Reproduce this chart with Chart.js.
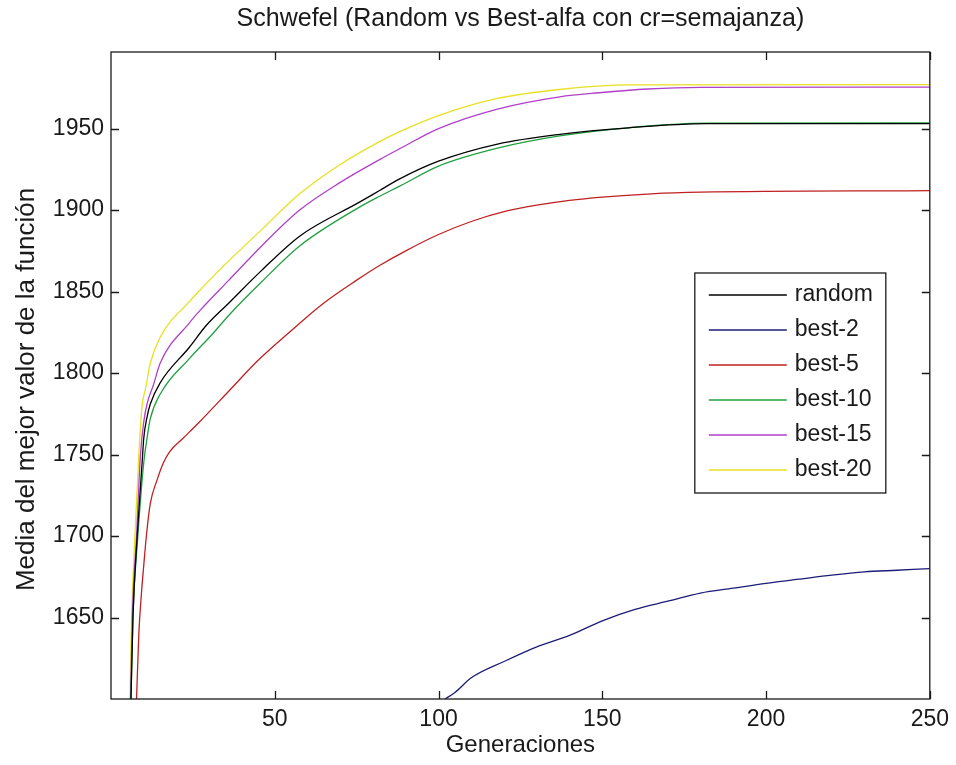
<!DOCTYPE html>
<html>
<head>
<meta charset="utf-8">
<title>Schwefel</title>
<script src="https://cdn.jsdelivr.net/npm/chart.js@4.4.1/dist/chart.umd.min.js"></script>
<style>
  html, body { margin: 0; padding: 0; background: #fff; }
  #wrap { position: relative; width: 956px; height: 765px; }
</style>
</head>
<body>
<div id="wrap"><canvas id="chart" width="956" height="765"></canvas></div>
<script>
// values (generation -> mean best value)
const seriesLabels = ['random', 'best-2', 'best-5', 'best-10', 'best-15', 'best-20'];
const seriesColors = ['#000000', '#1c1c78', '#c02020', '#20a040', '#b040c8', '#e8e020'];

const genRandom = [6.1, 6.7, 8, 9.5, 10, 11, 12, 15, 24, 29, 36, 46, 57.6, 76, 82, 88, 100, 118, 137, 158, 182, 250];
const valRandom = [1600, 1650, 1700, 1745, 1760, 1773, 1781, 1794, 1816, 1829, 1843, 1863, 1884, 1905, 1912, 1919, 1930, 1940.5, 1946.5, 1950.5, 1953, 1953];

const genBest2 = [102, 105, 110, 120, 130, 140, 150, 160, 170, 180, 190, 200, 210, 220, 230, 240, 250];
const valBest2 = [1600, 1604, 1613, 1623, 1632, 1639, 1648, 1655, 1660, 1665, 1668, 1671, 1673.5, 1676, 1678, 1679, 1680];

const genBest5 = [7.8, 8.5, 9.3, 10, 10.8, 12, 14, 16, 18, 22, 27, 36, 45, 55, 65, 75, 82, 90, 100, 110, 120, 130, 140, 150, 165, 180, 250];
const valBest5 = [1600, 1640, 1665, 1682, 1700, 1720, 1734, 1745, 1752, 1760, 1770, 1789, 1808, 1826, 1843, 1857, 1866, 1875, 1885, 1893, 1899, 1903, 1906, 1908, 1910, 1911, 1912];

const genBest10 = [6.1, 6.7, 8.2, 10, 11, 12, 15, 24, 31, 36, 46, 57.6, 76, 82, 88, 100, 118, 137, 158, 182, 250];
const valBest10 = [1600, 1650, 1700, 1745, 1760, 1772, 1787, 1809, 1824, 1835.5, 1856, 1878, 1902, 1908.5, 1914.5, 1927, 1938, 1945.5, 1950.5, 1953.3, 1953.5];

const genBest15 = [6, 6.5, 7.8, 9, 10, 11, 13, 15, 24, 27, 36, 46, 57.6, 70, 82, 88, 100, 118, 137, 149, 164, 180, 250];
const valBest15 = [1600, 1650, 1700, 1750, 1770, 1781, 1793, 1806, 1831, 1838, 1857, 1878, 1900, 1917, 1931, 1937.5, 1950, 1962, 1969.5, 1972, 1974.3, 1975.3, 1975.5];

const genBest20 = [5.8, 6.3, 7.3, 8.5, 9.5, 10.5, 12, 15, 24, 27, 33, 46, 57.6, 70, 82, 88, 100, 118, 137, 158, 250];
const valBest20 = [1600, 1650, 1700, 1750, 1780, 1790, 1806, 1822, 1844, 1850.5, 1863, 1888, 1910, 1928, 1942, 1948, 1958, 1968.5, 1974, 1976.8, 1977];

const xTicks = [50, 100, 150, 200, 250];
const yTicks = [1650, 1700, 1750, 1800, 1850, 1900, 1950];
const yTitle = 'Media del mejor valor de la función';

const allGens = [genRandom, genBest2, genBest5, genBest10, genBest15, genBest20];
const allVals = [valRandom, valBest2, valBest5, valBest10, valBest15, valBest20];

const FONT = '"Liberation Sans", Arial, sans-serif';
const TEXT = '#1a1a1a';

// MATLAB style box with inward ticks on all four sides
const axesBox = {
  id: 'axesBox',
  afterDatasetsDraw(chart) {
    const { ctx, chartArea: a, scales: { x, y } } = chart;
    const tl = 8;
    ctx.save();
    ctx.strokeStyle = '#1a1a1a';
    ctx.lineWidth = 1.3;
    ctx.strokeRect(a.left, a.top, a.right - a.left, a.bottom - a.top);
    ctx.beginPath();
    xTicks.forEach(v => {
      const px = Math.round(x.getPixelForValue(v)) + 0.5;
      ctx.moveTo(px, a.bottom); ctx.lineTo(px, a.bottom - tl);
      ctx.moveTo(px, a.top); ctx.lineTo(px, a.top + tl);
    });
    yTicks.forEach(v => {
      const py = Math.round(y.getPixelForValue(v)) + 0.5;
      ctx.moveTo(a.left, py); ctx.lineTo(a.left + tl, py);
      ctx.moveTo(a.right, py); ctx.lineTo(a.right - tl, py);
    });
    ctx.stroke();

    // y axis title, sits a bit below the axes centre as in the original
    ctx.translate(27, (a.top + a.bottom) / 2 + 14);
    ctx.rotate(-Math.PI / 2);
    ctx.font = '26px ' + FONT;
    ctx.fillStyle = TEXT;
    ctx.textAlign = 'center';
    ctx.textBaseline = 'middle';
    ctx.fillText(yTitle, 0, 0);
    ctx.restore();
  }
};

// legend box drawn inside the axes, like MATLAB's
const boxLegend = {
  id: 'boxLegend',
  afterDraw(chart, args, opts) {
    const { ctx, chartArea: a } = chart;
    const left = a.right - opts.offsetRight;
    const top = a.top + opts.offsetTop;
    ctx.save();
    ctx.fillStyle = '#fff';
    ctx.fillRect(left, top, opts.width, opts.height);
    ctx.strokeStyle = '#1a1a1a';
    ctx.lineWidth = 1.3;
    ctx.strokeRect(left, top, opts.width, opts.height);
    ctx.font = opts.font;
    ctx.textBaseline = 'middle';
    ctx.textAlign = 'left';
    chart.data.datasets.forEach((ds, i) => {
      const ry = top + opts.firstRow + i * opts.rowGap;
      ctx.strokeStyle = ds.borderColor;
      ctx.lineWidth = 1.5;
      ctx.beginPath();
      ctx.moveTo(left + 14, ry);
      ctx.lineTo(left + 92, ry);
      ctx.stroke();
      ctx.fillStyle = TEXT;
      ctx.fillText(ds.label, left + 100, ry);
    });
    ctx.restore();
  }
};

const datasets = seriesLabels.map((label, i) => ({
  label,
  data: allGens[i].map((g, k) => ({ x: g, y: allVals[i][k] })),
  borderColor: seriesColors[i],
  backgroundColor: seriesColors[i],
  borderWidth: 1.3,
  pointRadius: 0,
  cubicInterpolationMode: 'monotone',
  fill: false
}));

new Chart(document.getElementById('chart'), {
  type: 'line',
  data: { datasets },
  plugins: [axesBox, boxLegend],
  options: {
    responsive: false,
    animation: false,
    layout: { padding: { left: 0, right: 23, top: 0, bottom: 0 } },
    plugins: {
      legend: { display: false },
      tooltip: { enabled: false },
      title: {
        display: true,
        fullSize: false,
        text: 'Schwefel (Random vs Best-alfa con cr=semajanza)',
        color: TEXT,
        font: { family: FONT, size: 25, weight: 'normal', lineHeight: 1.2 },
        padding: { top: 4, bottom: 18 }
      },
      boxLegend: {
        offsetRight: 235, offsetTop: 221, width: 191, height: 220,
        firstRow: 22, rowGap: 35, font: '23px ' + FONT
      }
    },
    scales: {
      x: {
        type: 'linear',
        min: 0,
        max: 250,
        grid: { display: false, drawTicks: false },
        border: { display: false },
        afterBuildTicks: s => { s.ticks = xTicks.map(v => ({ value: v })); },
        afterFit: s => { s.height = 66; },
        ticks: { color: TEXT, padding: 7, maxRotation: 0, font: { family: FONT, size: 23 }, callback: v => String(v) },
        title: {
          display: true, text: 'Generaciones', color: TEXT,
          font: { family: FONT, size: 24, lineHeight: 1.2 }, padding: { top: 0, bottom: 5 }
        }
      },
      y: {
        type: 'linear',
        min: 1600,
        max: 1997,
        grid: { display: false, drawTicks: false },
        border: { display: false },
        afterBuildTicks: s => { s.ticks = yTicks.map(v => ({ value: v })); },
        afterFit: s => { s.width = 111; },
        ticks: { color: TEXT, padding: 7, font: { family: FONT, size: 23 }, callback: v => String(v) },
        title: { display: false }
      }
    }
  }
});
</script>
</body>
</html>
